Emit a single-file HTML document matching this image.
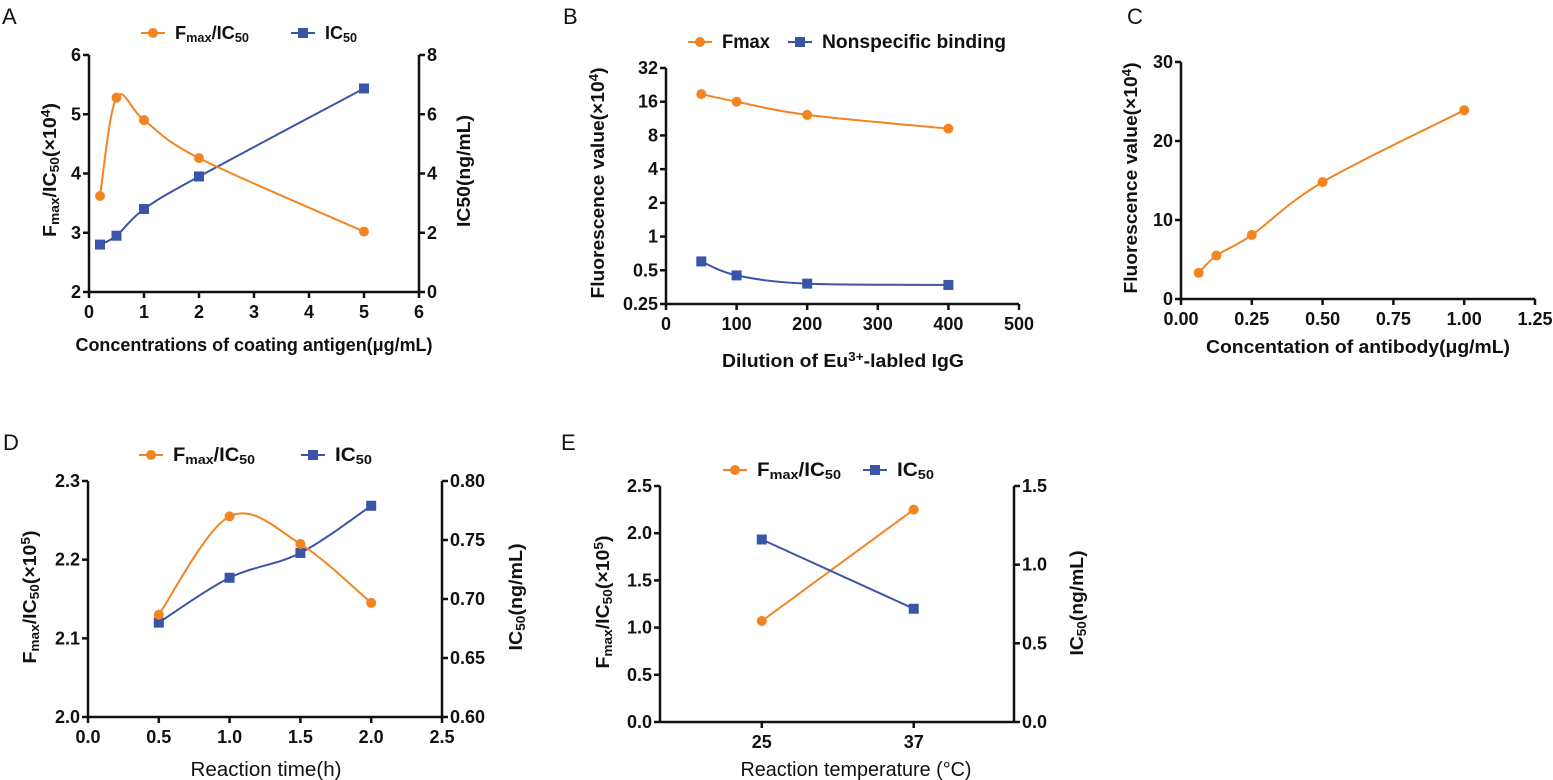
<!DOCTYPE html>
<html><head><meta charset="utf-8"><style>
html,body{margin:0;padding:0;background:#fff;}
svg{display:block;}
text{font-family:"Liberation Sans",sans-serif;fill:#111;}
</style></head><body>
<svg id="fig" width="1553" height="780" viewBox="0 0 1553 780" xmlns="http://www.w3.org/2000/svg"></svg>
<script>
// ---- Panel A data ----
const aX = [0.2, 0.5, 1, 2, 5];
const aRatio = [3.62, 5.28, 4.9, 4.26, 3.02];
const aIC50 = [1.6, 1.9, 2.8, 3.9, 6.87];
const aXTicks = [0,1,2,3,4,5,6];
const aYTicks = [2,3,4,5,6];
const aY2Ticks = [0,2,4,6,8];
// ---- Panel B data ----
const bX = [50, 100, 200, 400];
const bFmax = [18.7, 16, 12.2, 9.2];
const bNonspec = [0.6, 0.45, 0.38, 0.37];
const bXTicks = [0,100,200,300,400,500];
const bYTicks = [0.25,0.5,1,2,4,8,16,32];
// ---- Panel C data ----
const cX = [0.0625, 0.125, 0.25, 0.5, 1.0];
const cVal = [3.3, 5.5, 8.1, 14.8, 23.9];
const cXTicks = ["0.00","0.25","0.50","0.75","1.00","1.25"];
const cYTicks = [0,10,20,30];
// ---- Panel D data ----
const dX = [0.5, 1.0, 1.5, 2.0];
const dRatio = [2.13, 2.255, 2.22, 2.145];
const dIC50 = [0.68, 0.718, 0.739, 0.779];
const dXTicks = ["0.0","0.5","1.0","1.5","2.0","2.5"];
const dYTicks = ["2.0","2.1","2.2","2.3"];
const dY2Ticks = ["0.60","0.65","0.70","0.75","0.80"];
// ---- Panel E data ----
const eCats = ["25","37"];
const eRatio = [1.07, 2.25];
const eIC50 = [1.16, 0.72];
const eYTicks = ["0.0","0.5","1.0","1.5","2.0","2.5"];
const eY2Ticks = ["0.0","0.5","1.0","1.5"];

const OR = "#f28522", BL = "#3a55a8";
const svg = document.getElementById('fig');
const NS = "http://www.w3.org/2000/svg";
function mk(tag, attrs, parent){const e=document.createElementNS(NS,tag);for(const k in attrs)e.setAttribute(k,attrs[k]);(parent||svg).appendChild(e);return e;}
function lin(d0,d1,r0,r1){return v=>r0+(v-d0)/(d1-d0)*(r1-r0);}
function rich(parent, x, y, segs, size, attrs, len){
  const t=mk('text',Object.assign({x:x,y:y,'font-size':size,'font-weight':'bold'},attrs||{}),parent);
  if(len){t.setAttribute('textLength',len);t.setAttribute('lengthAdjust','spacingAndGlyphs');}
  segs.forEach(s=>{const ts=mk('tspan',{},t);ts.textContent=s[0];
    if(s[1]==='sub'){ts.setAttribute('font-size',size*0.7);ts.setAttribute('baseline-shift','-25%');}
    if(s[1]==='sup'){ts.setAttribute('font-size',size*0.7);ts.setAttribute('baseline-shift','45%');}});
  return t;
}
function smooth(pts){
  if(pts.length<3) return 'M'+pts.map(p=>p.join(',')).join('L');
  let d='M'+pts[0][0]+','+pts[0][1];
  for(let i=0;i<pts.length-1;i++){
    const p0=pts[i-1]||pts[i],p1=pts[i],p2=pts[i+1],p3=pts[i+2]||p2;
    const c1=[p1[0]+(p2[0]-p0[0])/6,p1[1]+(p2[1]-p0[1])/6];
    const c2=[p2[0]-(p3[0]-p1[0])/6,p2[1]-(p3[1]-p1[1])/6];
    d+='C'+c1+' '+c2+' '+p2;
  }
  return d;
}
function axisLeft(g,x,y0,y1,ticks,sc,size,side){
  mk('line',{x1:x,y1:y0,x2:x,y2:y1,stroke:'#111','stroke-width':2.5},g);
  ticks.forEach(t=>{const y=sc(parseFloat(t));
    const dx = side==='right'?6:-6;
    mk('line',{x1:x,y1:y,x2:x+dx,y2:y,stroke:'#111','stroke-width':2.5},g);
    const tx=mk('text',{x:x+(side==='right'?8:-8),y:y+6,'font-size':size,'font-weight':'bold','text-anchor':side==='right'?'start':'end'},g);
    tx.textContent=t;});
}
function axisBottom(g,y,x0,x1,ticks,sc,size,labels){
  mk('line',{x1:x0,y1:y,x2:x1,y2:y,stroke:'#111','stroke-width':2.5},g);
  ticks.forEach((t,i)=>{const x=sc(parseFloat(t));
    mk('line',{x1:x,y1:y,x2:x,y2:y+6,stroke:'#111','stroke-width':2.5},g);
    const tx=mk('text',{x:x,y:y+26,'font-size':size,'font-weight':'bold','text-anchor':'middle'},g);
    tx.textContent=labels?labels[i]:t;});
}
function series(g,xs,ys,sx,sy,color,shape,curved,name){
  const pts=xs.map((v,i)=>[sx(v),sy(ys[i])]);
  const p=mk('path',{d:curved?smooth(pts):'M'+pts.map(p=>p.join(',')).join('L'),fill:'none',stroke:color,'stroke-width':2},g);
  
  
  pts.forEach((q,i)=>{let m;
    if(shape==='c') m=mk('circle',{cx:q[0],cy:q[1],r:5,fill:color},g);
    else m=mk('rect',{x:q[0]-5,y:q[1]-5,width:10,height:10,fill:color},g);
    
    });
}
function legend(g,x,y,color,shape,segs,size,len){
  mk('line',{x1:x-12,y1:y,x2:x+12,y2:y,stroke:color,'stroke-width':2},g);
  if(shape==='c') mk('circle',{cx:x,cy:y,r:5,fill:color},g); else mk('rect',{x:x-5,y:y-5,width:10,height:10,fill:color},g);
  rich(g,x+22,y+6,segs,size,{},len);
}
function vtitle(g,x,y,segs,size,len){ return rich(g,0,0,segs,size,{'text-anchor':'middle',transform:`translate(${x},${y}) rotate(-90)`},len);}
function grp(name){const g=mk('g',{});return g;}
function letter(g,x,y,s){const t=mk('text',{x:x,y:y,'font-size':22},g);t.textContent=s;}

// ===== Panel A =====
(function(){
  const g=grp('panel-a');
  letter(g,2,24,'A');
  const sx=lin(0,6,89,419), sy=lin(2,6,292,55), sy2=lin(0,8,292,55);
  axisLeft(g,89,55,292,aYTicks.map(String),sy,18);
  axisLeft(g,419,55,292,aY2Ticks.map(String),sy2,18,'right');
  axisBottom(g,292,89,419,aXTicks.map(String),sx,18);
  series(g,aX,aIC50,sx,sy2,BL,'s',true,'a-ic50');
  series(g,aX,aRatio,sx,sy,OR,'c',true,'a-fmax-ic50');
  legend(g,153,33,OR,'c',[['F'],['max','sub'],['/IC'],['50','sub']],18,74);
  legend(g,303,33,BL,'s',[['IC'],['50','sub']],18,32);
  rich(g,254,351,[['Concentrations of coating antigen(μg/mL)']],18,{'text-anchor':'middle'},357);
  vtitle(g,56,170,[['F'],['max','sub'],['/IC'],['50','sub'],['(×10'],['4','sup'],[')']],18,134);
  vtitle(g,470,171,[['IC50(ng/mL)']],18,112);
})();

// ===== Panel B =====
(function(){
  const g=grp('panel-b');
  letter(g,563,24,'B');
  const sx=lin(0,500,666,1019);
  const sy=v=>lin(Math.log2(0.25),Math.log2(32),304,68)(Math.log2(v));
  axisLeft(g,666,68,304,bYTicks.map(String),sy,18);
  axisBottom(g,304,666,1019,bXTicks.map(String),sx,18);
  series(g,bX,bFmax,sx,sy,OR,'c',true,'b-fmax');
  series(g,bX,bNonspec,sx,sy,BL,'s',true,'b-nonspecific');
  legend(g,700,42,OR,'c',[['Fmax']],19,48);
  legend(g,800,42,BL,'s',[['Nonspecific binding']],19,184);
  rich(g,843,367,[['Dilution of Eu'],['3+','sup'],['-labled IgG']],18,{'text-anchor':'middle'},242);
  vtitle(g,604,183,[['Fluorescence value(×10'],['4','sup'],[')']],18,231);
})();

// ===== Panel C =====
(function(){
  const g=grp('panel-c');
  letter(g,1127,24,'C');
  const sx=lin(0,1.25,1181,1535), sy=lin(0,30,299,62);
  axisLeft(g,1181,62,299,cYTicks.map(String),sy,18);
  axisBottom(g,299,1181,1535,cXTicks,sx,18);
  series(g,cX,cVal,sx,sy,OR,'c',true,'c-fluorescence');
  rich(g,1358,353,[['Concentation of antibody(μg/mL)']],18,{'text-anchor':'middle'},304);
  vtitle(g,1137,178,[['Fluorescence value(×10'],['4','sup'],[')']],18,231);
})();

// ===== Panel D =====
(function(){
  const g=grp('panel-d');
  letter(g,3,450,'D');
  const sx=lin(0,2.5,88,442), sy=lin(2.0,2.3,717,481), sy2=lin(0.6,0.8,717,481);
  axisLeft(g,88,481,717,dYTicks,sy,18);
  axisLeft(g,442,481,717,dY2Ticks,sy2,18,'right');
  axisBottom(g,717,88,442,dXTicks,sx,18);
  series(g,dX,dIC50,sx,sy2,BL,'s',true,'d-ic50');
  series(g,dX,dRatio,sx,sy,OR,'c',true,'d-fmax-ic50');
  legend(g,151,455,OR,'c',[['F'],['max','sub'],['/IC'],['50','sub']],19,82);
  legend(g,313,455,BL,'s',[['IC'],['50','sub']],19,37);
  rich(g,266,776,[['Reaction time(h)']],20,{'text-anchor':'middle','font-weight':'normal'},151);
  vtitle(g,36,597,[['F'],['max','sub'],['/IC'],['50','sub'],['(×10'],['5','sup'],[')']],18,133);
  vtitle(g,522,597,[['IC'],['50','sub'],['(ng/mL)']],18,107);
})();

// ===== Panel E =====
(function(){
  const g=grp('panel-e');
  letter(g,561,450,'E');
  const sx=lin(-0.67,1.66,660,1014), sy=lin(0,2.5,722,486), sy2=lin(0,1.5,722,486);
  axisLeft(g,660,486,722,eYTicks,sy,18);
  axisLeft(g,1014,486,722,eY2Ticks,sy2,18,'right');
  axisBottom(g,722,660,1014,[0,1],sx,18,eCats);
  const idx=eCats.map((c,i)=>i);
  series(g,idx,eRatio,sx,sy,OR,'c',false,'e-fmax-ic50');
  series(g,idx,eIC50,sx,sy2,BL,'s',false,'e-ic50');
  legend(g,735,470,OR,'c',[['F'],['max','sub'],['/IC'],['50','sub']],19,84);
  legend(g,875,470,BL,'s',[['IC'],['50','sub']],19,37);
  rich(g,856,776,[['Reaction temperature (°C)']],20,{'text-anchor':'middle','font-weight':'normal'},231);
  vtitle(g,609,602,[['F'],['max','sub'],['/IC'],['50','sub'],['(×10'],['5','sup'],[')']],18,133);
  vtitle(g,1083,603,[['IC'],['50','sub'],['(ng/mL)']],18,105);
})();
</script>
</body></html>
